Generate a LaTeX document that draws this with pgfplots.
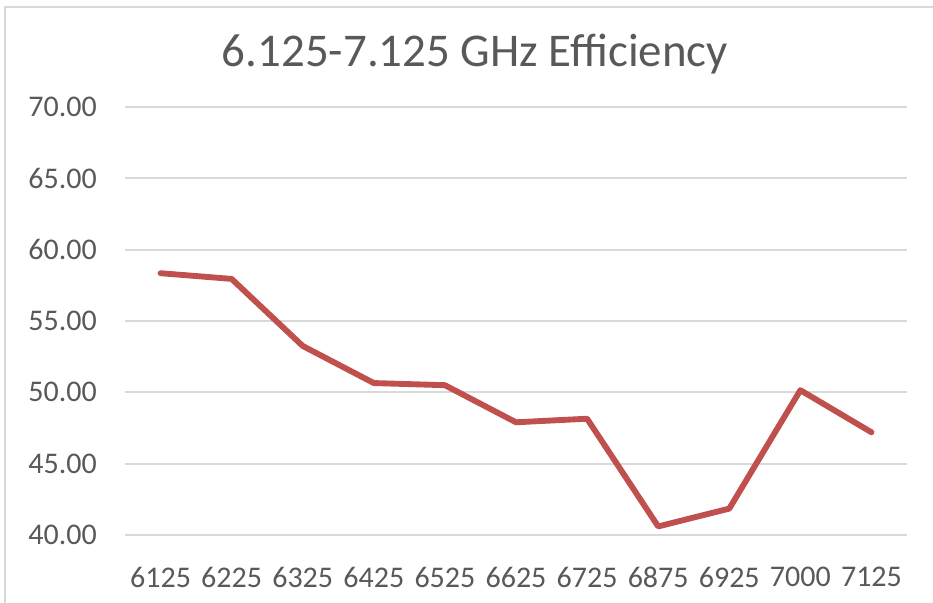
\documentclass[border=0pt]{standalone}
\usepackage{pgfplots}
\pgfplotsset{compat=1.18}
\usepackage{fontspec}
\setmainfont{Carlito}
\definecolor{txt}{HTML}{595959}
\definecolor{gridc}{HTML}{D9D9D9}
\definecolor{linec}{HTML}{C0504D}
\begin{document}
\begin{tikzpicture}[x=1pt,y=1pt]
\path[use as bounding box] (0,0) rectangle (699.75,452.25);
\draw[gridc, line width=1.5pt] (3.75,-2) -- (3.75,447) -- (702,447);
\node[text=txt, font=\fontsize{35.2}{40}\selectfont, anchor=center] at (356.25,412) {6.125-7.125 GHz Efficiency};
\begin{axis}[
  at={(93.75pt,51pt)}, anchor=south west,
  scale only axis, width=586.5pt, height=321pt,
  xmin=-0.5, xmax=10.5, ymin=40, ymax=70,
  xtick={0,...,10},
  xticklabels={6125,6225,6325,6425,6525,6625,6725,6875,6925,7000,7125},
  ytick={40,45,50,55,60,65,70},
  yticklabels={40.00,45.00,50.00,55.00,60.00,65.00,70.00},
  axis line style={draw=none},
  major tick length=0pt,
  ymajorgrids, grid style={gridc, line width=1.5pt},
  tick label style={text=txt, font=\fontsize{22.5}{26}\selectfont, inner sep=0pt},
  xticklabel style={anchor=north},
  yticklabel style={anchor=east},
  xticklabel shift=24pt,
  yticklabel shift=21pt,
  clip=false,
]
\addplot[linec, line width=4.4pt, line join=round, line cap=round] coordinates {
(0,58.35) (1,57.95) (2,53.25) (3,50.65) (4,50.5) (5,47.9) (6,48.15) (7,40.6) (8,41.85) (9,50.15) (10,47.2)
};
\end{axis}
\end{tikzpicture}
\end{document}
